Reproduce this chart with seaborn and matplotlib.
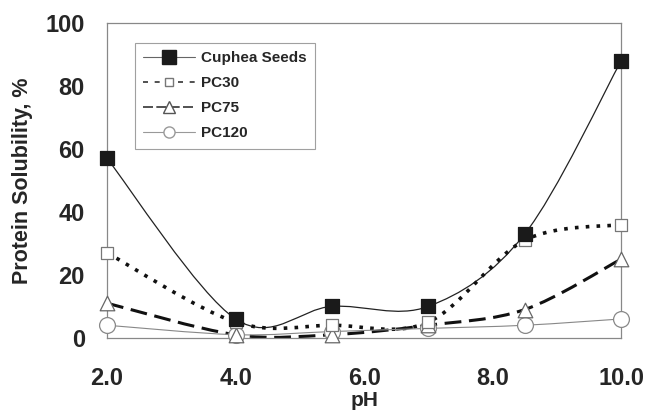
import matplotlib
matplotlib.use('Agg')
import matplotlib.pyplot as plt
import seaborn as sns
import numpy as np
from matplotlib.path import Path
from matplotlib.patches import PathPatch
from matplotlib.lines import Line2D

# ---------------------------------------------------------
# DADES
# ---------------------------------------------------------
ph = [2.0, 4.0, 5.5, 7.0, 8.5, 10.0]
cuphea = [57, 6, 10, 10, 33, 88]
pc30 = [27, 5, 4, 5, 31, 36]
pc75 = [11, 1, 1, 4, 9, 25]
pc120 = [4, 1, 2, 3, 4, 6]

noms = ['Cuphea Seeds', 'PC30', 'PC75', 'PC120']
x_ticks = [2.0, 4.0, 6.0, 8.0, 10.0]
y_ticks = [0, 20, 40, 60, 80, 100]

sns.set_style("white")
plt.rcParams['font.family'] = ['Liberation Sans', 'DejaVu Sans']
plt.rcParams['font.weight'] = 'bold'


def corba_suau(x, y):
    # corba suavitzada tipus Excel (Bezier amb punts de control Catmull-Rom)
    pts = np.column_stack([x, y]).astype(float)
    n = len(pts)
    verts = [pts[0]]
    codes = [Path.MOVETO]
    for i in range(n - 1):
        p0 = pts[i - 1] if i > 0 else pts[i]
        p1 = pts[i]
        p2 = pts[i + 1]
        p3 = pts[i + 2] if i + 2 < n else pts[i + 1]
        c1 = p1 + (p2 - p0) / 6.0
        c2 = p2 - (p3 - p1) / 6.0
        verts += [c1, c2, p2]
        codes += [Path.CURVE4] * 3
    return Path(verts, codes)


fig = plt.figure(figsize=(6.45, 4.13), dpi=100)
ax = fig.add_axes([0.166, 0.182, 0.797, 0.762])

estils = [
    dict(y=cuphea, ls='-', lw=0.9, lc='#222222', marker='s', s=110, fc='#1a1a1a', ec='#1a1a1a'),
    dict(y=pc30, ls=(0, (1.0, 2.0)), lw=2.6, lc='#111111', marker='s', s=70, fc='white', ec='#777777'),
    dict(y=pc75, ls=(0, (5.5, 2.5)), lw=2.2, lc='#111111', marker='^', s=110, fc='white', ec='#666666'),
    dict(y=pc120, ls='-', lw=0.8, lc='#888888', marker='o', s=130, fc='white', ec='#888888'),
]

for e in estils:
    patch = PathPatch(corba_suau(ph, e['y']), fill=False, edgecolor=e['lc'],
                      linewidth=e['lw'], linestyle=e['ls'], capstyle='butt', zorder=2)
    ax.add_patch(patch)

# marcadors: Cuphea a sobre de tot
for k, e in enumerate(reversed(estils)):
    sns.scatterplot(x=ph, y=e['y'], marker=e['marker'], s=e['s'], color=e['fc'],
                    edgecolor=e['ec'], linewidth=0.9, clip_on=False, zorder=3 + k, ax=ax)

ax.set_xlim(2.0, 10.0)
ax.set_ylim(0, 100)
ax.set_xticks(x_ticks)
ax.set_xticklabels([f'{v:.1f}' for v in x_ticks])
ax.set_yticks(y_ticks)
ax.tick_params(axis='both', labelsize=17, length=7, width=0.8, color='#888888', direction='out')
ax.tick_params(axis='y', pad=9)
ax.tick_params(axis='x', pad=14)
for lab in ax.get_xticklabels() + ax.get_yticklabels():
    lab.set_fontweight('bold')
for sp in ax.spines.values():
    sp.set_color('#888888')
    sp.set_linewidth(0.9)

ax.set_xlabel('pH', fontsize=15, fontweight='bold', labelpad=1)
ax.set_ylabel('Protein Solubility, %', fontsize=15.5, fontweight='bold', labelpad=9)

handles = [
    Line2D([], [], color='#666666', lw=0.8, marker='s', markersize=10, markerfacecolor='#1a1a1a', markeredgecolor='#1a1a1a'),
    Line2D([], [], color='#333333', lw=1.2, ls=(0, (3, 4)), marker='s', markersize=6, markerfacecolor='white', markeredgecolor='#777777'),
    Line2D([], [], color='#333333', lw=1.2, ls=(0, (6, 2)), marker='^', markersize=8, markerfacecolor='white', markeredgecolor='#555555'),
    Line2D([], [], color='#999999', lw=0.8, marker='o', markersize=8, markerfacecolor='white', markeredgecolor='#999999'),
]
leg = ax.legend(handles, noms, loc='upper left', bbox_to_anchor=(0.054, 0.937),
                borderaxespad=0, fontsize=11, frameon=True, fancybox=False, edgecolor='#888888',
                handlelength=3.4, borderpad=0.55, labelspacing=0.72, handletextpad=0.4)
leg.get_frame().set_linewidth(0.8)
for t in leg.get_texts():
    t.set_fontweight('bold')

plt.savefig('out.png', dpi=100)
